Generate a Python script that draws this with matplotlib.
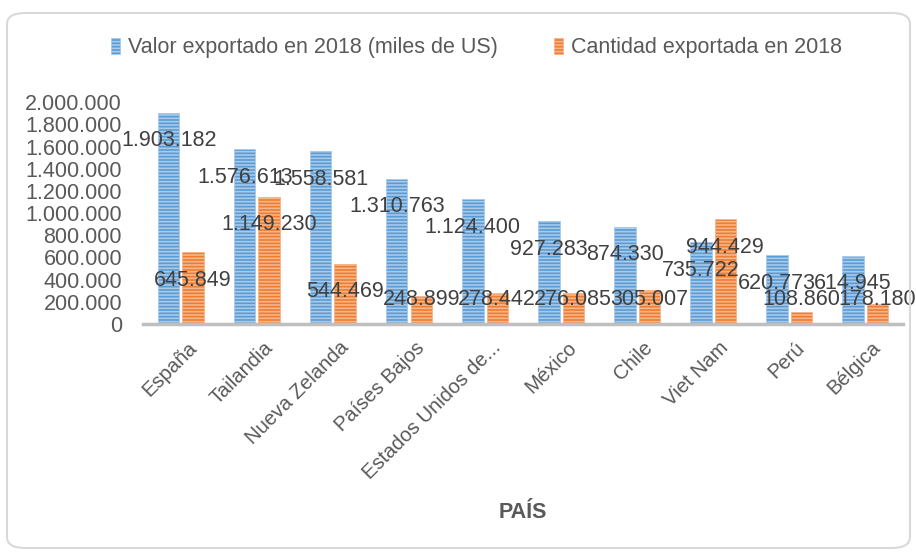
import numpy as np
import matplotlib
matplotlib.use('Agg')
import matplotlib.pyplot as plt
from matplotlib.patches import FancyBboxPatch
from matplotlib.ticker import FuncFormatter

# Datos
paises = ['España', 'Tailandia', 'Nueva Zelanda', 'Países Bajos', 'Estados Unidos de...',
          'México', 'Chile', 'Viet Nam', 'Perú', 'Bélgica']
valor = [1903182, 1576613, 1558581, 1310763, 1124400, 927283, 874330, 735722, 620773, 614945]
cantidad = [645849, 1149230, 544469, 248899, 278442, 276085, 305007, 944429, 108860, 178180]
series = ['Valor exportado en 2018 (miles de US)', 'Cantidad exportada en 2018']

def miles(v, pos=None):
    return f'{int(round(v)):,}'.replace(',', '.')

plt.rcParams['font.family'] = ['Liberation Sans', 'DejaVu Sans']
plt.rcParams['hatch.linewidth'] = 1.2
fs = 15.5

fig = plt.figure(figsize=(9.16, 5.52), dpi=100)
ax = fig.add_axes([0.156, 0.413, 0.830, 0.402])

# marco redondeado
marco = FancyBboxPatch((7/916, 1 - 548/552), 903/916, 535/552, boxstyle='round,pad=0,rounding_size=0.02',
                       transform=fig.transFigure, facecolor='none', edgecolor='#D9D9D9', linewidth=1.5)
fig.patches.append(marco)

x = np.arange(len(paises))
w = 0.28
b1 = ax.bar(x - 0.16, valor, w, color='#5B9BD5', edgecolor='#A9CBEA', linewidth=0.6,
            hatch='-----', label=series[0])
b2 = ax.bar(x + 0.16, cantidad, w, color='#ED7D31', edgecolor='#F6B68C', linewidth=0.6,
            hatch='-----', label=series[1])

# etiquetas de datos (posicion tipo "extremo interno" de Excel)
for xs, vals in ((x - 0.16, valor), (x + 0.16, cantidad)):
    for xi, v in zip(xs, vals):
        yl = max(v - 252000, 225000)
        ax.text(xi, yl, miles(v), ha='center', va='center', fontsize=fs, color='#404040')

ax.set_xlim(-0.5, 9.5)
ax.set_ylim(0, 2000000)
ax.set_yticks(np.arange(0, 2000001, 200000))
ax.yaxis.set_major_formatter(FuncFormatter(miles))
ax.set_xticks(x + 0.08)
ax.set_xticklabels(paises, rotation=45, ha='right', rotation_mode='anchor')
ax.tick_params(axis='both', length=0, labelsize=fs, labelcolor='#595959')
ax.tick_params(axis='x', pad=10, labelsize=14.5)
ax.tick_params(axis='y', pad=15)
for s in ['top', 'right', 'left']:
    ax.spines[s].set_visible(False)
ax.spines['bottom'].set_color('#BFBFBF')
ax.spines['bottom'].set_linewidth(2.5)

fig.text(0.571, 1 - 512/552, 'PAÍS', ha='center', va='center', fontsize=fs,
         fontweight='bold', color='#595959')

fig.legend(handles=[b1, b2], loc='center', bbox_to_anchor=(0.52, 1 - 48/552), ncol=2,
           frameon=False, fontsize=fs, labelcolor='#595959', handlelength=0.45,
           handleheight=0.7, handletextpad=0.35, columnspacing=2.6)

fig.savefig('out.png', dpi=100)
